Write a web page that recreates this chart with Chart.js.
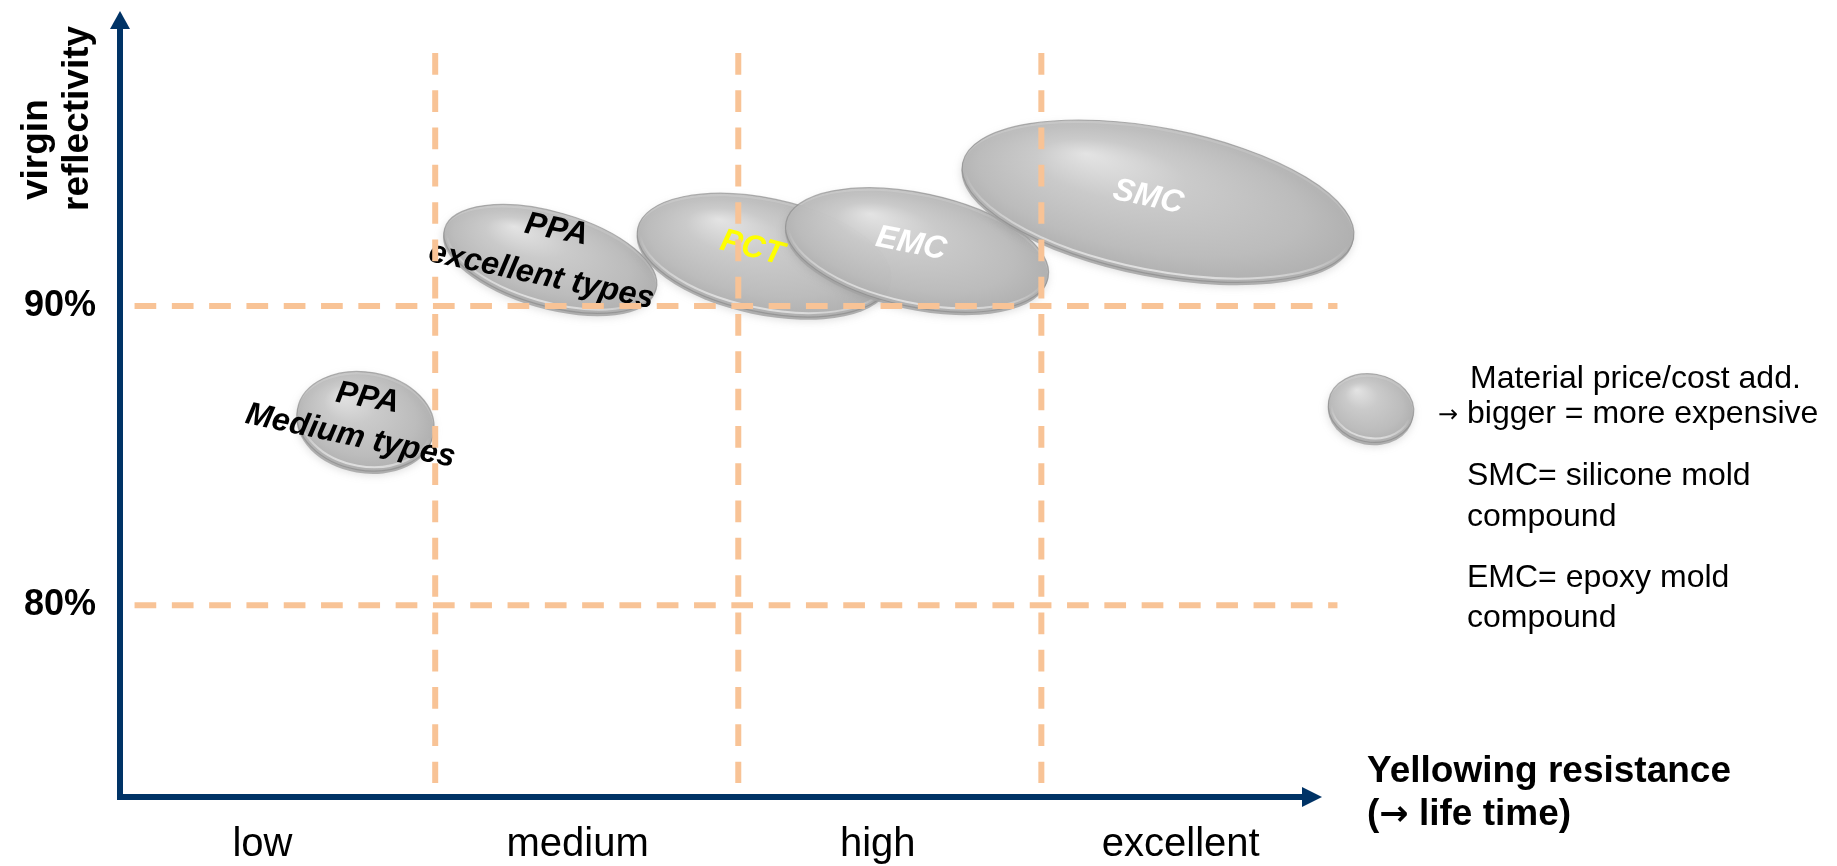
<!DOCTYPE html>
<html>
<head>
<meta charset="utf-8">
<title>Reflectivity vs. yellowing resistance</title>
<script src="https://cdn.jsdelivr.net/npm/chart.js@4.4.1/dist/chart.umd.min.js"></script>
<style>
  html, body { margin: 0; padding: 0; background: #ffffff; }
  #wrap { width: 1837px; height: 866px; }
</style>
</head>
<body>
<div id="wrap"><canvas id="chart" width="1837" height="866"></canvas></div>
<script>
// Housing materials: yellowing resistance (x, category units) vs. virgin reflectivity (y, %)
const materials = ['PPA Medium types', 'PPA excellent types', 'PCT', 'EMC', 'SMC'];
const labelLines = [['PPA', 'Medium types'], ['PPA', 'excellent types'], ['PCT'], ['EMC'], ['SMC']];
const yellowing = [0.77, 1.38, 2.085, 2.59, 3.385];
const reflectivity = [86.15, 91.57, 91.7, 91.87, 93.5];
// Disc extent (bigger = more expensive): half-length in x units, half-height in % units
const spreadX = [0.228, 0.363, 0.426, 0.442, 0.657];
const spreadY = [1.64, 1.57, 1.9, 1.9, 2.44];

// Axis categories and guide lines
const categories = ['low', 'medium', 'high', 'excellent'];
const categoryPos = [0.43, 1.47, 2.46, 3.46];
const dividers = [1, 2, 3];
const levels = [80, 90];

const FONT = '"Liberation Sans", Arial, Helvetica, sans-serif';
const ARROW_FONT = '"DejaVu Sans", sans-serif';
const AXIS_COLOR = '#003366';
const GUIDE_COLOR = '#F8C396';

// Per-disc look: tilt (deg) and label placement relative to the disc centre
const discStyle = [
  { tilt: 10, labels: [{ dx: 2, dy: -23, rot: 10, color: '#000000' }, { dx: -15, dy: 15, rot: 12, color: '#000000' }] },
  { tilt: 16, labels: [{ dx: 6, dy: -29, rot: 11, color: '#000000' }, { dx: -9, dy: 17, rot: 12, color: '#000000' }] },
  { tilt: 12, labels: [{ dx: -12, dy: -7, rot: 14, color: '#FFFF00' }] },
  { tilt: 12, labels: [{ dx: -6, dy: -6, rot: 11, color: '#FFFFFF' }] },
  { tilt: 11, labels: [{ dx: -10, dy: -4, rot: 12, color: '#FFFFFF' }] }
];

// Guide line extents in data units
const guideExtent = { hFrom: 0.008, hTo: 3.977, vTop: 98.45, vBottom: 74.07 };

function drawDisc(ctx, cx, cy, a, b, tiltDeg) {
  const TAU = Math.PI * 2;
  ctx.save();
  ctx.translate(cx, cy);
  ctx.rotate(tiltDeg * Math.PI / 180);

  // soft cast shadow
  ctx.save();
  ctx.filter = 'blur(4px)';
  ctx.fillStyle = 'rgba(110,110,110,0.25)';
  ctx.beginPath();
  ctx.ellipse(0, 4, a, b, 0, 0, TAU);
  ctx.fill();
  ctx.restore();

  ctx.globalAlpha = 0.84;
  // disc edge (thickness)
  ctx.fillStyle = '#a3a3a3';
  ctx.beginPath();
  ctx.ellipse(0, 3, a, b, 0, 0, TAU);
  ctx.fill();

  // body with radial shading
  ctx.save();
  ctx.scale(a, b);
  const g = ctx.createRadialGradient(-0.4, -0.45, 0, 0, 0, 1.1);
  g.addColorStop(0, '#eeeeee');
  g.addColorStop(0.35, '#d0d0d0');
  g.addColorStop(0.75, '#bfbfbf');
  g.addColorStop(1, '#acacac');
  ctx.fillStyle = g;
  ctx.beginPath();
  ctx.arc(0, 0, 1, 0, TAU);
  ctx.fill();
  ctx.restore();

  // outline
  ctx.lineWidth = 1.2;
  ctx.strokeStyle = 'rgba(135,135,135,0.75)';
  ctx.beginPath();
  ctx.ellipse(0, 0, a, b, 0, 0, TAU);
  ctx.stroke();

  // glassy bevel along the lower rim
  const hl = ctx.createLinearGradient(0, -b, 0, b);
  hl.addColorStop(0, 'rgba(255,255,255,0)');
  hl.addColorStop(0.55, 'rgba(255,255,255,0)');
  hl.addColorStop(1, 'rgba(255,255,255,0.75)');
  ctx.strokeStyle = hl;
  ctx.lineWidth = 2;
  ctx.beginPath();
  ctx.ellipse(0, -1, Math.max(a - 3, 1), Math.max(b - 3, 1), 0, 0, TAU);
  ctx.stroke();
  ctx.restore();
}

function drawRotatedText(ctx, text, x, y, rotDeg, font, color) {
  ctx.save();
  ctx.translate(x, y);
  ctx.rotate(rotDeg * Math.PI / 180);
  ctx.font = font;
  ctx.fillStyle = color;
  ctx.textAlign = 'center';
  ctx.textBaseline = 'middle';
  ctx.fillText(text, 0, 0);
  ctx.restore();
}

// Writes a run of [text, font] pieces left to right on one baseline
function drawRun(ctx, pieces, x, y) {
  let cx = x;
  pieces.forEach(([t, f]) => {
    ctx.font = f;
    ctx.fillText(t, cx, y);
    cx += ctx.measureText(t).width;
  });
}

// Draws each material as a shaded disc at its data position, with its label
const discPlugin = {
  id: 'discs',
  afterDatasetsDraw(chart) {
    const ctx = chart.ctx;
    const xs = chart.scales.x, ys = chart.scales.y;
    const meta = chart.getDatasetMeta(0);
    meta.data.forEach((el, i) => {
      const a = Math.abs(xs.getPixelForValue(yellowing[i] + spreadX[i]) - xs.getPixelForValue(yellowing[i]));
      const b = Math.abs(ys.getPixelForValue(reflectivity[i] - spreadY[i]) - ys.getPixelForValue(reflectivity[i]));
      drawDisc(ctx, el.x, el.y, a, b, discStyle[i].tilt);
      labelLines[i].forEach((line, k) => {
        const s = discStyle[i].labels[k];
        drawRotatedText(ctx, line, el.x + s.dx, el.y + s.dy, s.rot, 'italic bold 32px ' + FONT, s.color);
      });
    });
  }
};

// Dashed guides, axis arrowheads, axis titles and the key on the right
const overlayPlugin = {
  id: 'overlay',
  afterDraw(chart) {
    const ctx = chart.ctx;
    const xs = chart.scales.x, ys = chart.scales.y;
    const area = chart.chartArea;

    // dashed guide lines
    ctx.save();
    ctx.strokeStyle = GUIDE_COLOR;
    ctx.lineWidth = 6;
    ctx.lineCap = 'butt';
    ctx.setLineDash([21.7, 15.6]);
    levels.forEach(v => {
      const y = ys.getPixelForValue(v);
      ctx.beginPath();
      ctx.moveTo(xs.getPixelForValue(guideExtent.hFrom), y);
      ctx.lineTo(xs.getPixelForValue(guideExtent.hTo), y);
      ctx.stroke();
    });
    dividers.forEach(v => {
      const x = xs.getPixelForValue(v);
      ctx.beginPath();
      ctx.moveTo(x, ys.getPixelForValue(guideExtent.vTop));
      ctx.lineTo(x, ys.getPixelForValue(guideExtent.vBottom));
      ctx.stroke();
    });
    ctx.restore();

    // arrowheads on the axis lines
    ctx.save();
    ctx.fillStyle = AXIS_COLOR;
    const yAxisX = area.left;
    ctx.beginPath();
    ctx.moveTo(yAxisX - 10, area.top);
    ctx.lineTo(yAxisX + 10, area.top);
    ctx.lineTo(yAxisX, area.top - 18);
    ctx.closePath();
    ctx.fill();
    const xAxisY = area.bottom;
    ctx.beginPath();
    ctx.moveTo(area.right, xAxisY - 10);
    ctx.lineTo(area.right, xAxisY + 10);
    ctx.lineTo(area.right + 20, xAxisY);
    ctx.closePath();
    ctx.fill();
    ctx.restore();

    // axis titles
    ctx.save();
    ctx.fillStyle = '#000000';
    ctx.font = 'bold 37px ' + FONT;
    ctx.textBaseline = 'alphabetic';
    ctx.textAlign = 'left';
    [['virgin', area.left - 73, 200], ['reflectivity', area.left - 32, 211]].forEach(([t, x, y]) => {
      ctx.save();
      ctx.translate(x, y);
      ctx.rotate(-Math.PI / 2);
      ctx.fillText(t, 0, 0);
      ctx.restore();
    });
    ctx.fillText('Yellowing resistance', area.right + 65, 782);
    drawRun(ctx, [['(', 'bold 37px ' + FONT], ['\u2192', 'bold 35px ' + ARROW_FONT], [' life time)', 'bold 37px ' + FONT]], area.right + 65, 825);
    ctx.restore();

    // key: disc size meaning and abbreviations
    drawDisc(ctx, 1371, 408, 43, 34, 10);
    ctx.save();
    ctx.fillStyle = '#000000';
    ctx.textAlign = 'left';
    ctx.textBaseline = 'alphabetic';
    const body = '32px ' + FONT;
    ctx.font = body;
    ctx.fillText('Material price/cost add.', 1470, 388);
    ctx.font = '24px ' + ARROW_FONT;
    ctx.fillText('\u2192', 1438, 422);
    ctx.font = body;
    ctx.fillText('bigger = more expensive', 1467, 423);
    ctx.fillText('SMC= silicone mold', 1467, 485);
    ctx.fillText('compound', 1467, 526);
    ctx.fillText('EMC= epoxy mold', 1467, 587);
    ctx.fillText('compound', 1467, 627);
    ctx.restore();
  }
};

new Chart(document.getElementById('chart'), {
  type: 'bubble',
  data: {
    datasets: [{
      label: 'Materials',
      data: yellowing.map((x, i) => ({ x: x, y: reflectivity[i], r: 0 })),
      backgroundColor: 'rgba(0,0,0,0)',
      borderWidth: 0,
      hoverRadius: 0
    }]
  },
  options: {
    responsive: false,
    animation: false,
    devicePixelRatio: 1,
    events: [],
    layout: { padding: { top: 29, right: 535, left: 0, bottom: 0 } },
    plugins: { legend: { display: false }, tooltip: { enabled: false } },
    scales: {
      x: {
        type: 'linear',
        min: -0.04,
        max: 3.86,
        grid: { color: 'rgba(0,0,0,0)', drawTicks: false },
        border: { display: true, color: AXIS_COLOR, width: 6 },
        afterBuildTicks: s => { s.ticks = categoryPos.map(v => ({ value: v })); },
        afterFit: s => { s.height = 69; s.paddingLeft = 0; s.paddingRight = 0; },
        ticks: {
          callback: (v, i) => categories[i],
          padding: 24,
          color: '#000000',
          maxRotation: 0,
          autoSkip: false,
          font: { family: FONT, size: 40 }
        }
      },
      y: {
        type: 'linear',
        min: 73.6,
        max: 99.25,
        grid: { color: 'rgba(0,0,0,0)', drawTicks: false },
        border: { display: true, color: AXIS_COLOR, width: 6 },
        afterBuildTicks: s => { s.ticks = levels.map(v => ({ value: v })); },
        afterFit: s => { s.width = 120; s.paddingTop = 0; s.paddingBottom = 0; },
        ticks: {
          callback: v => v + '%',
          padding: 24,
          color: '#000000',
          font: { family: FONT, size: 36, weight: 'bold' }
        }
      }
    }
  },
  plugins: [discPlugin, overlayPlugin]
});
</script>
</body>
</html>
